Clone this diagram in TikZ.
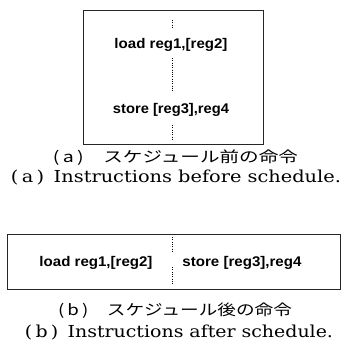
\documentclass[tikz,border=0pt]{standalone}
\usepackage{fontspec}
\usepackage{graphicx}
\newfontfamily\boxfont{Liberation Sans}
\newfontfamily\cjk{Noto Sans CJK JP}
\newfontfamily\capfont{DejaVu Serif}
\newcommand\stretchto[2]{\resizebox{#1}{\height}{#2}}
\tikzset{
  frame/.style={draw=black!85, line width=0.9pt},
  instr/.style={inner sep=0pt, font=\boxfont\bfseries\fontsize{14}{16}\selectfont},
  jcap/.style={inner sep=0pt, font=\cjk\fontsize{15}{17}\selectfont},
  ecap/.style={inner sep=0pt, font=\capfont\fontsize{16.5}{18}\selectfont},
  dots/.style={line width=0.9pt, dash pattern=on 0.9pt off 1.4pt}
}
\begin{document}
\begin{tikzpicture}[x=1pt,y=-1pt]
\useasboundingbox (0,0) rectangle (341,343);
% (a)
\draw[frame] (83,10) rectangle (263,144);
\node[instr] (load1) at (171,45) {\stretchto{113pt}{load reg1,[reg2]}};
\node[instr] (store1) at (171,110) {\stretchto{116pt}{store [reg3],reg4}};
\coordinate (a1) at (172,20);
\coordinate (a2) at (172,29);
\coordinate (a3) at (172,58);
\coordinate (a4) at (172,91);
\coordinate (a5) at (172,125);
\coordinate (a6) at (172,139);
\draw[dots] (a1) -- (a2);
\draw[dots] (a3) -- (a4);
\draw[dots] (a5) -- (a6);
\node[jcap] (ja) at (175.5,158) {\stretchto{245pt}{(\,a\,)\quad スケジュール前の命令}};
\node[ecap] (ea) at (176,178) {\stretchto{330pt}{(\,a\,)\enspace Instructions before schedule.}};
% (b)
\draw[frame] (7,234) rectangle (340.5,289);
\node[instr] (load2) at (96,263) {\stretchto{113pt}{load reg1,[reg2]}};
\node[instr] (store2) at (242,263) {\stretchto{119pt}{store [reg3],reg4}};
\coordinate (b1) at (172,237);
\coordinate (b2) at (172,251);
\coordinate (b3) at (172,267);
\coordinate (b4) at (172,284);
\draw[dots] (b1) -- (b2);
\draw[dots] (b3) -- (b4);
\node[jcap] (jb) at (175,311) {\stretchto{234pt}{(\,b\,)\quad スケジュール後の命令}};
\node[ecap] (eb) at (179,333) {\stretchto{308pt}{(\,b\,)\enspace Instructions after schedule.}};
\end{tikzpicture}
\end{document}
